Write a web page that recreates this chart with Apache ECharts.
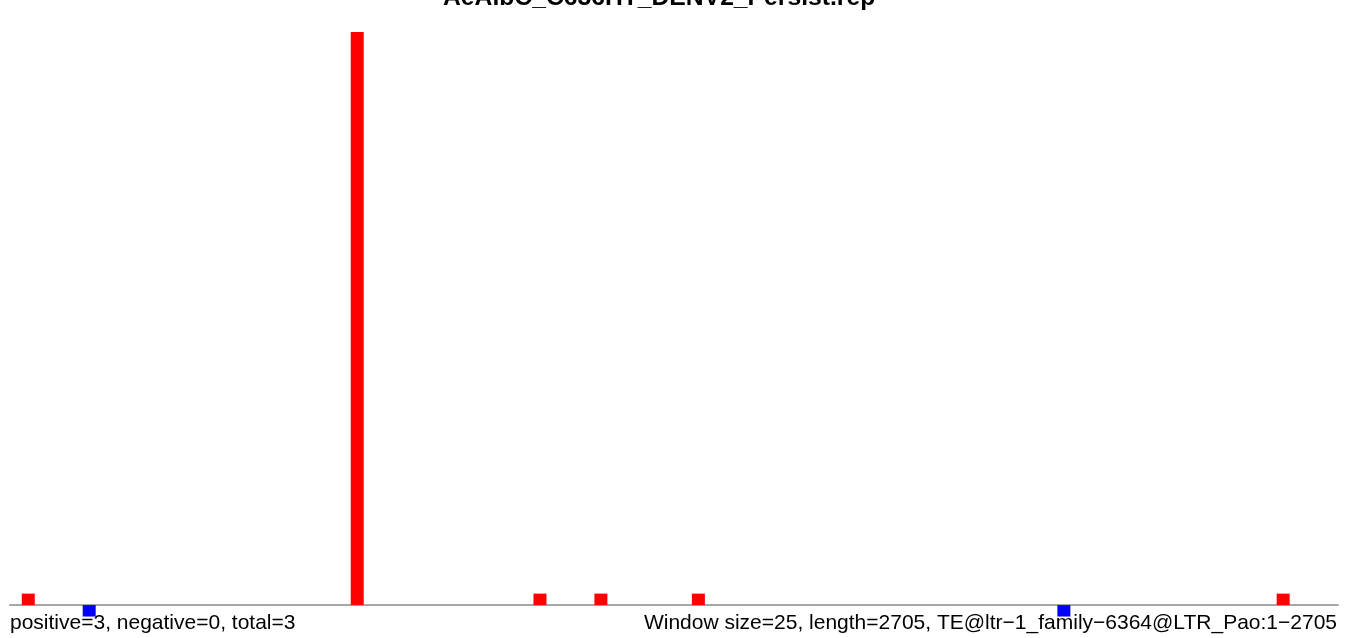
<!DOCTYPE html>
<html>
<head>
<meta charset="utf-8">
<script src="https://cdn.jsdelivr.net/npm/echarts@6/dist/echarts.min.js"></script>
<style>
html,body{margin:0;padding:0;background:#fff;}
#chart{width:1350px;height:638px;}
</style>
</head>
<body>
<div id="chart"></div>
<script>
// Data
var titleText = "AeAlbC_C636HT_DENV2_Persist.rep";
var windowSize = 25;
var seqLength = 2705;
var nWindows = 109;
// window start positions (nt) and counts
var positiveStarts = [25, 700, 1075, 1200, 1400, 2600];
var positiveValues = [1, 50, 1, 1, 1, 1];
var negativeStarts = [150, 2150];
var negativeValues = [-1, -1];
var leftNote = "positive=3, negative=0, total=3";
var rightNote = "Window size=25, length=2705, TE@ltr\u22121_family\u22126364@LTR_Pao:1\u22122705";

function toData(starts, vals) {
  return starts.map(function (s, i) { return [s + windowSize / 2, vals[i]]; });
}

var chart = echarts.init(document.getElementById('chart'), null, {renderer: 'canvas'});
var font = '"Liberation Sans", Arial, Helvetica, sans-serif';
chart.setOption({
  animation: false,
  backgroundColor: '#ffffff',
  grid: {left: 10, right: 12, top: 32, bottom: 10},
  xAxis: {
    type: 'value', min: 0, max: nWindows * windowSize,
    axisLine: {show: true, onZero: true, lineStyle: {color: '#a6a6a6', width: 2}},
    axisTick: {show: false}, axisLabel: {show: false}, splitLine: {show: false}
  },
  yAxis: {
    type: 'value', min: -2, max: 50,
    axisLine: {show: false}, axisTick: {show: false}, axisLabel: {show: false}, splitLine: {show: false}
  },
  series: [
    {type: 'bar', data: toData(positiveStarts, positiveValues), barWidth: 13, barGap: '-100%',
     itemStyle: {color: '#ff0000'}},
    {type: 'bar', data: toData(negativeStarts, negativeValues), barWidth: 13, barGap: '-100%',
     itemStyle: {color: '#0000ff'}}
  ],
  graphic: [
    {type: 'text', left: 443, top: -14, z: 10,
     style: {text: titleText, font: 'bold 24.7px ' + font, fill: '#000'}},
    {type: 'text', left: 10, top: 613, z: 10,
     style: {text: leftNote, font: '21px ' + font, fill: '#000'}},
    {type: 'text', right: 13, top: 613, z: 10,
     style: {text: rightNote, font: '21px ' + font, fill: '#000'}}
  ]
});
</script>
</body>
</html>
